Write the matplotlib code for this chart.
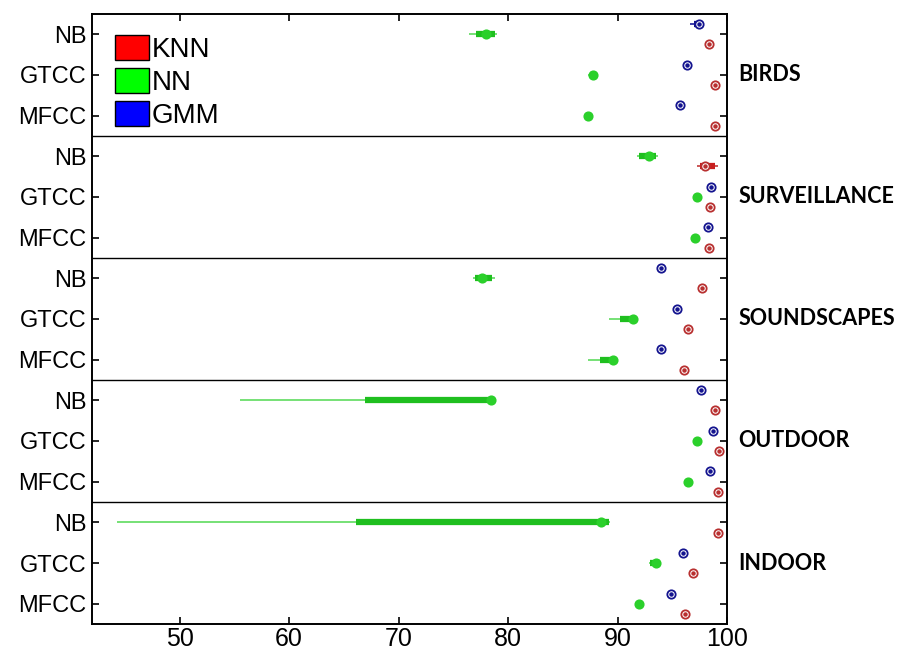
import numpy as np
import matplotlib

matplotlib.use("Agg", force=True)
import matplotlib.pyplot as plt
import matplotlib.transforms as mtransforms
from matplotlib.patches import Patch

datasets = ["BIRDS", "SURVEILLANCE", "SOUNDSCAPES", "OUTDOOR", "INDOOR"]
features = ["NB", "GTCC", "MFCC"]
classifiers = ["KNN", "NN", "GMM"]

nan = np.nan
# order: dataset-major, then NB, GTCC, MFCC
gmm_med = [97.4, 96.3, 95.7, nan, 98.5, 98.3, 94.0, 95.4, 94.0, 97.6, 98.7, 98.45, nan, 96.0, 94.9]
gmm_q1 = [97.0, 96.2, 95.6, nan, 98.4, 98.2, 93.9, 95.3, 93.9, 97.5, 98.6, 98.35, nan, 95.9, 94.8]
gmm_q3 = [97.6, 96.4, 95.8, nan, 98.6, 98.4, 94.1, 95.5, 94.1, 97.7, 98.8, 98.55, nan, 96.1, 95.0]
gmm_lo = [96.6, 96.2, 95.6, nan, 98.4, 98.2, 93.9, 95.3, 93.9, 97.5, 98.6, 98.35, nan, 95.9, 94.8]
gmm_hi = [97.7, 96.4, 95.8, nan, 98.6, 98.4, 94.1, 95.5, 94.1, 97.7, 98.8, 98.55, nan, 96.1, 95.0]

nn_med = [78.0, 87.75, 87.3, 92.9, 97.3, 97.1, 77.6, 91.4, 89.6, 78.4, 97.3, 96.4, 88.5, 93.5, 92.0]
nn_q1 = [77.1, 87.5, 87.1, 92.0, 97.2, 97.0, 77.0, 90.2, 88.4, 66.9, 97.2, 96.3, 66.1, 93.0, 91.8]
nn_q3 = [78.8, 88.0, 87.6, 93.5, 97.4, 97.2, 78.5, 91.5, 89.7, 78.3, 97.4, 96.5, 89.2, 93.9, 92.2]
nn_lo = [76.4, 87.3, 86.9, 91.8, 97.1, 96.9, 76.8, 89.2, 87.3, 55.5, 97.1, 96.2, 44.3, 92.9, 91.7]
nn_hi = [79.0, 88.2, 87.8, 93.7, 97.5, 97.3, 78.8, 91.6, 89.8, 78.6, 97.5, 96.6, 89.3, 94.0, 92.4]

knn_med = [98.4, 98.9, 98.9, 98.0, 98.45, 98.4, 97.7, 96.4, 96.05, 98.9, 99.3, 99.2, 99.2, 96.9, 96.2]
knn_q1 = [98.3, 98.8, 98.8, 97.5, 98.35, 98.3, 97.6, 96.3, 95.95, 98.8, 99.2, 99.1, 99.1, 96.8, 96.1]
knn_q3 = [98.5, 99.0, 99.0, 98.9, 98.55, 98.5, 97.8, 96.5, 96.15, 99.0, 99.4, 99.3, 99.3, 97.0, 96.3]
knn_lo = [98.3, 98.8, 98.8, 97.3, 98.35, 98.3, 97.6, 96.3, 95.95, 98.8, 99.2, 99.1, 99.1, 96.8, 96.1]
knn_hi = [98.5, 99.0, 99.0, 99.2, 98.55, 98.5, 97.8, 96.5, 96.15, 99.0, 99.4, 99.3, 99.3, 97.0, 96.3]

xticks = [50, 60, 70, 80, 90, 100]

series = [
    # stats, y offset, whisker colour, box colour, marker colour, filled marker
    ((gmm_lo, gmm_q1, gmm_med, gmm_q3, gmm_hi), -0.25, "#1a1a99", "#12128c", "#14148f", False),
    ((nn_lo, nn_q1, nn_med, nn_q3, nn_hi), 0.0, "#5fdc5f", "#1fbf1f", "#2bd02b", True),
    ((knn_lo, knn_q1, knn_med, knn_q3, knn_hi), 0.25, "#c23a3a", "#c81e1e", "#b83030", False),
]

plt.rcParams["font.family"] = ["Liberation Sans", "DejaVu Sans"]

fig = plt.figure(figsize=(9.02, 6.53), dpi=100)
ax = fig.add_axes([0.102, 0.0444, 0.704, 0.9342])

rows = np.arange(len(datasets) * len(features)) + 0.5
for stats, off, wcol, bcol, mcol, filled in series:
    lo, q1, med, q3, hi = (np.asarray(s, dtype=float) for s in stats)
    for i, y in enumerate(rows):
        if np.isnan(med[i]):
            continue
        yy = y + off
        ax.plot([lo[i], hi[i]], [yy, yy], color=wcol, lw=1.2, solid_capstyle="butt", zorder=2)
        ax.plot([q1[i], q3[i]], [yy, yy], color=bcol, lw=4.5, solid_capstyle="butt", zorder=3)
        ax.plot(med[i], yy, "o", ms=6, mfc=mcol if filled else "white", mec=mcol, mew=1.3, zorder=4)
        ax.plot(med[i], yy, "o", ms=2.2, color=mcol, zorder=5)

for k in range(1, len(datasets)):
    ax.axhline(3 * k, color="black", lw=1.0, zorder=1)

ax.set_xlim(42, 100)
ax.set_ylim(len(rows), 0)
ax.set_xticks(xticks)
ax.set_yticks(rows)
ax.set_yticklabels(features * len(datasets))
ax.tick_params(direction="in", length=5, width=1.2, top=True, right=True, pad=4)
ax.tick_params(axis="y", labelsize=17)
ax.tick_params(axis="x", labelsize=18, pad=2)
for sp in ax.spines.values():
    sp.set_linewidth(1.4)

trans = mtransforms.blended_transform_factory(ax.transAxes, ax.transData)
for k, name in enumerate(datasets):
    ax.text(1.018, 3 * k + 1.5, name, transform=trans, ha="left", va="center",
            fontsize=15.5, fontweight="bold", family=["Lato", "DejaVu Sans"])

handles = [Patch(facecolor=c, edgecolor="black", lw=1.0) for c in ["#ff0000", "#00ff00", "#0000ff"]]
ax.legend(handles, classifiers, loc="upper left", bbox_to_anchor=(0.037, 0.966),
          frameon=False, fontsize=20, handlelength=1.2, handleheight=1.0,
          handletextpad=0.1, labelspacing=0.19, borderpad=0, borderaxespad=0)

fig.savefig("out.png", dpi=100)
